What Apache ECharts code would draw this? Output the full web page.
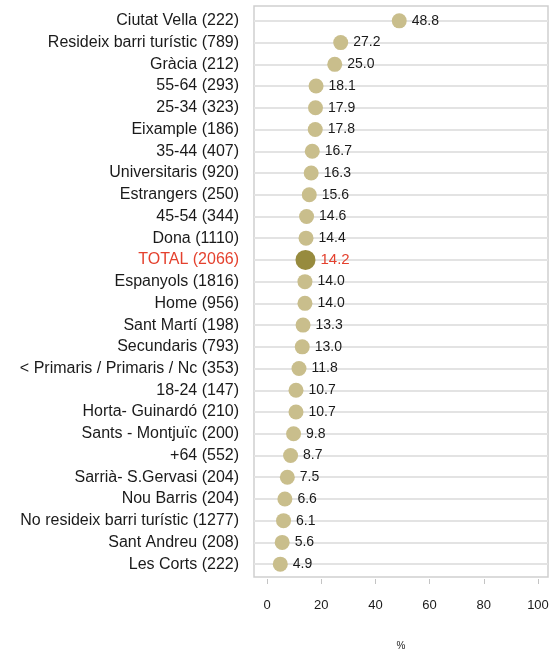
<!DOCTYPE html>
<html><head><meta charset="utf-8">
<script src="https://cdn.jsdelivr.net/npm/echarts@6/dist/echarts.min.js"></script>
<style>html,body{margin:0;padding:0;background:#fff}#c{width:551px;height:649px}</style>
</head><body><div id="c"></div>
<script>
const categories = ["Ciutat Vella (222)","Resideix barri turístic (789)","Gràcia (212)","55-64 (293)","25-34 (323)","Eixample (186)","35-44 (407)","Universitaris (920)","Estrangers (250)","45-54 (344)","Dona (1110)","TOTAL (2066)","Espanyols (1816)","Home (956)","Sant Martí (198)","Secundaris (793)","< Primaris / Primaris / Nc (353)","18-24 (147)","Horta- Guinardó (210)","Sants - Montjuïc (200)","+64 (552)","Sarrià- S.Gervasi (204)","Nou Barris (204)","No resideix barri turístic (1277)","Sant Andreu (208)","Les Corts (222)"];
const values = [48.8,27.2,25.0,18.1,17.9,17.8,16.7,16.3,15.6,14.6,14.4,14.2,14.0,14.0,13.3,13.0,11.8,10.7,10.7,9.8,8.7,7.5,6.6,6.1,5.6,4.9];
const xTicks = [0,20,40,60,80,100];
const totalName = "TOTAL (2066)";

const font = "'Liberation Sans', Arial, sans-serif";
const data = categories.map((c,i)=>{
  const isT = c===totalName;
  return {
    value:[values[i], c],
    symbolSize: isT?20:15,
    itemStyle:{color: isT?'#978b3e':'#c9be8c', opacity:1},
    label:{color: isT?'#e4412e':'#1a1a1a', fontSize: isT?15:14}
  };
});
const chart = echarts.init(document.getElementById('c'));
chart.setOption({
  animation:false,
  grid:{left:254,right:3,top:10,bottom:74,containLabel:false,outerBoundsMode:'none'},
  graphic:[{type:'rect',shape:{x:254,y:6,width:294,height:571},style:{fill:'none',stroke:'#cfcfcf',lineWidth:1.5},z:-1}],
  xAxis:{type:'value',min:-4.8,max:103.7,
    axisLine:{show:false},
    axisTick:{show:true,length:5,customValues:xTicks,lineStyle:{color:'#c4c4c4'}},
    offset:4,
    axisLabel:{customValues:xTicks,margin:20,fontSize:13,color:'#1a1a1a',fontFamily:font,formatter:v=>String(v)},
    splitLine:{show:false},
    name:'%',nameLocation:'middle',nameGap:62,nameTextStyle:{fontSize:10,color:'#222',fontFamily:font}
  },
  yAxis:{type:'category',data:categories,inverse:true,
    axisLine:{show:false},axisTick:{show:false},
    axisLabel:{margin:15,fontSize:16,color:'#1a1a1a',fontFamily:font,
      formatter:v=> v===totalName?'{r|'+v+'}':v,
      rich:{r:{color:'#e4412e',fontSize:16,fontFamily:font}}},
    splitLine:{show:true,alignWithLabel:true,lineStyle:{color:'#e3e3e3',width:2}}
  },
  series:[{type:'scatter',data:data,
    label:{show:true,position:'right',distance:5,fontFamily:font,formatter:p=>p.value[0].toFixed(1)},
    emphasis:{disabled:true}
  }]
});
</script></body></html>
